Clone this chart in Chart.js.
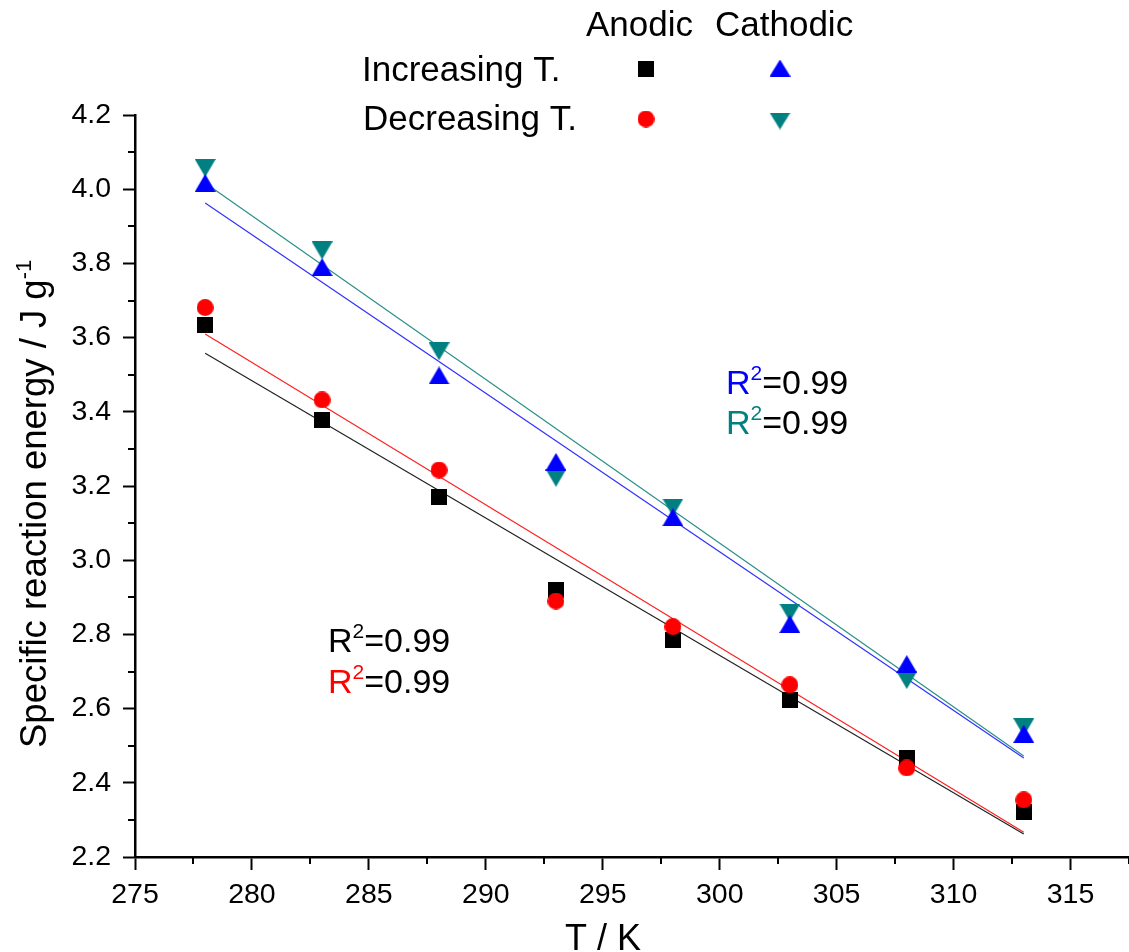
<!DOCTYPE html>
<html>
<head>
<meta charset="utf-8">
<script src="https://cdn.jsdelivr.net/npm/chart.js@4.4.0/dist/chart.umd.min.js"></script>
<style>
  html, body { margin: 0; padding: 0; background: #ffffff; }
  #wrap { width: 1129px; height: 952px; position: relative; }
</style>
</head>
<body>
<div id="wrap"><canvas id="chart" width="1129" height="952"></canvas></div>
<script>
// Measured temperatures (K)
const temperatures = [278, 283, 288, 293, 298, 303, 308, 313];

// Specific reaction energy (J/g)
const anodicIncreasing   = [3.634, 3.378, 3.171, 2.920, 2.785, 2.623, 2.467, 2.321];
const anodicDecreasing   = [3.681, 3.432, 3.243, 2.890, 2.821, 2.664, 2.440, 2.354];
const cathodicIncreasing = [4.017, 3.790, 3.498, 3.265, 3.116, 2.828, 2.720, 2.532];
const cathodicDecreasing = [4.057, 3.835, 3.563, 3.222, 3.142, 2.859, 2.677, 2.550];

// Linear fits, given at the ends of the measured range
const fitRange              = [278, 313];
const fitAnodicIncreasing   = [3.558, 2.262];
const fitAnodicDecreasing   = [3.610, 2.267];
const fitCathodicIncreasing = [3.963, 2.467];
const fitCathodicDecreasing = [4.017, 2.472];

// Coefficients of determination of the fits
const r2AnodicIncreasing   = '0.99';
const r2AnodicDecreasing   = '0.99';
const r2CathodicIncreasing = '0.99';
const r2CathodicDecreasing = '0.99';

// Axis ticks
const xTicks = [275, 280, 285, 290, 295, 300, 305, 310, 315];
const xMinorTicks = [277.5, 282.5, 287.5, 292.5, 297.5, 302.5, 307.5, 312.5, 317.5];
const yTicks = [2.2, 2.4, 2.6, 2.8, 3.0, 3.2, 3.4, 3.6, 3.8, 4.0, 4.2];
const yMinorTicks = [2.3, 2.5, 2.7, 2.9, 3.1, 3.3, 3.5, 3.7, 3.9, 4.1];

const FONT = "'Liberation Sans', Arial, Helvetica, sans-serif";
const BLACK = '#000000', RED = '#ff0000', BLUE = '#0000ff', TEAL = '#008080';

// Marker glyphs, centred on their bounding box
function markerImage(kind, color, w, h) {
  const c = document.createElement('canvas');
  c.width = w; c.height = h;
  const g = c.getContext('2d');
  g.fillStyle = color;
  g.beginPath();
  if (kind === 'square') g.rect(0, 0, w, h);
  else if (kind === 'circle') g.arc(w / 2, h / 2, w / 2, 0, Math.PI * 2);
  else if (kind === 'up') { g.moveTo(w / 2, 0); g.lineTo(w, h); g.lineTo(0, h); }
  else { g.moveTo(0, 0); g.lineTo(w, 0); g.lineTo(w / 2, h); }
  g.closePath();
  g.fill();
  return c;
}

const mk = {
  square: markerImage('square', BLACK, 16, 16),
  circle: markerImage('circle', RED, 17, 17),
  up: markerImage('up', BLUE, 21, 18),
  down: markerImage('down', TEAL, 21, 18)
};
const legendMk = {
  square: markerImage('square', BLACK, 16, 16),
  circle: markerImage('circle', RED, 17, 17),
  up: markerImage('up', BLUE, 21, 17),
  down: markerImage('down', TEAL, 21, 17)
};

const points = (ys) => temperatures.map((t, i) => ({ x: t, y: ys[i] }));
const fit = (ys) => fitRange.map((t, i) => ({ x: t, y: ys[i] }));

function scatterSet(label, ys, img) {
  return { label, data: points(ys), showLine: false, pointStyle: img, pointRadius: 8, pointHoverRadius: 8 };
}
function fitSet(label, ys, color) {
  return { label, data: fit(ys), showLine: true, borderColor: color, borderWidth: 1.2, pointRadius: 0, pointHoverRadius: 0, fill: false };
}

// Text with a superscript part
function drawSup(ctx, x, y, parts) {
  let cx = x;
  for (const p of parts) {
    ctx.font = p.size + 'px ' + FONT;
    ctx.fillStyle = p.color;
    ctx.fillText(p.text, cx, y - (p.rise || 0));
    cx += ctx.measureText(p.text).width;
  }
  return cx;
}

const decorations = {
  id: 'decorations',
  afterDraw(chart) {
    const ctx = chart.ctx;
    const xs = chart.scales.x, ys = chart.scales.y;
    const area = chart.chartArea;
    ctx.save();

    // minor ticks
    ctx.strokeStyle = BLACK;
    ctx.lineWidth = 2;
    ctx.beginPath();
    for (const v of xMinorTicks) {
      const px = Math.round(xs.getPixelForValue(v));
      if (px > area.right) continue;
      ctx.moveTo(px, area.bottom);
      ctx.lineTo(px, area.bottom + 7);
    }
    for (const v of yMinorTicks) {
      const py = Math.round(ys.getPixelForValue(v));
      ctx.moveTo(area.left, py);
      ctx.lineTo(area.left - 7, py);
    }
    ctx.stroke();

    ctx.textBaseline = 'alphabetic';
    ctx.textAlign = 'left';

    // axis titles
    ctx.fillStyle = BLACK;
    ctx.font = '36px ' + FONT;
    ctx.textAlign = 'center';
    ctx.fillText('T / K', 603, 950);
    ctx.textAlign = 'left';

    ctx.save();
    ctx.translate(46, 748);
    ctx.rotate(-Math.PI / 2);
    drawSup(ctx, 0, 0, [
      { text: 'Specific reaction energy / J g', size: 36.5, color: BLACK },
      { text: '-1', size: 22, color: BLACK, rise: 15 }
    ]);
    ctx.restore();

    // legend
    ctx.font = '35px ' + FONT;
    ctx.fillStyle = BLACK;
    ctx.fillText('Anodic', 586, 36);
    ctx.fillText('Cathodic', 715, 36);
    ctx.fillText('Increasing T.', 362, 81);
    ctx.fillText('Decreasing T.', 363, 130);
    const put = (img, cx, cy) => ctx.drawImage(img, cx - img.width / 2, cy - img.height / 2);
    put(legendMk.square, 646, 69);
    put(legendMk.up, 780, 68);
    put(legendMk.circle, 646, 119);
    put(legendMk.down, 780, 121);

    // fit quality labels
    const r2 = (x, y, color, val) => drawSup(ctx, x, y, [
      { text: 'R', size: 34, color },
      { text: '2', size: 21, color, rise: 14 },
      { text: '=' + val, size: 34, color: BLACK }
    ]);
    r2(726, 394, BLUE, r2CathodicIncreasing);
    r2(726, 434, TEAL, r2CathodicDecreasing);
    r2(328, 652, BLACK, r2AnodicIncreasing);
    r2(328, 693, RED, r2AnodicDecreasing);

    ctx.restore();
  }
};

new Chart(document.getElementById('chart'), {
  type: 'scatter',
  data: {
    datasets: [
      scatterSet('Anodic, decreasing T.', anodicDecreasing, mk.circle),
      scatterSet('Anodic, increasing T.', anodicIncreasing, mk.square),
      scatterSet('Cathodic, increasing T.', cathodicIncreasing, mk.up),
      scatterSet('Cathodic, decreasing T.', cathodicDecreasing, mk.down),
      fitSet('Fit anodic, increasing T.', fitAnodicIncreasing, '#222222'),
      fitSet('Fit anodic, decreasing T.', fitAnodicDecreasing, '#ff2020'),
      fitSet('Fit cathodic, increasing T.', fitCathodicIncreasing, '#3030ff'),
      fitSet('Fit cathodic, decreasing T.', fitCathodicDecreasing, '#2a9088')
    ]
  },
  options: {
    responsive: false,
    animation: false,
    devicePixelRatio: 1,
    layout: { autoPadding: false, padding: { top: 115, left: 0, right: 0, bottom: 0 } },
    plugins: { legend: { display: false }, tooltip: { enabled: false } },
    scales: {
      x: {
        type: 'linear',
        min: 275,
        max: 317.5,
        afterBuildTicks: (s) => { s.ticks = xTicks.map(v => ({ value: v })); },
        afterFit: (s) => { s.height = 95; s.paddingLeft = 0; s.paddingRight = 0; },
        grid: { drawOnChartArea: false, drawTicks: true, tickLength: 13, tickWidth: 2, tickColor: BLACK },
        border: { display: true, color: BLACK, width: 2.5 },
        ticks: { color: BLACK, padding: 8, maxRotation: 0, autoSkip: false,
                 font: { family: FONT, size: 28.5 }, callback: (v) => String(v) }
      },
      y: {
        type: 'linear',
        min: 2.2,
        max: 4.2,
        afterBuildTicks: (s) => { s.ticks = yTicks.map(v => ({ value: v })); },
        afterFit: (s) => { s.width = 135; s.paddingTop = 0; s.paddingBottom = 0; },
        grid: { drawOnChartArea: false, drawTicks: true, tickLength: 12, tickWidth: 2, tickColor: BLACK },
        border: { display: true, color: BLACK, width: 2.5 },
        ticks: { color: BLACK, padding: 12, autoSkip: false,
                 font: { family: FONT, size: 28.5 }, callback: (v) => Number(v).toFixed(1) }
      }
    }
  },
  plugins: [decorations]
});
</script>
</body>
</html>
